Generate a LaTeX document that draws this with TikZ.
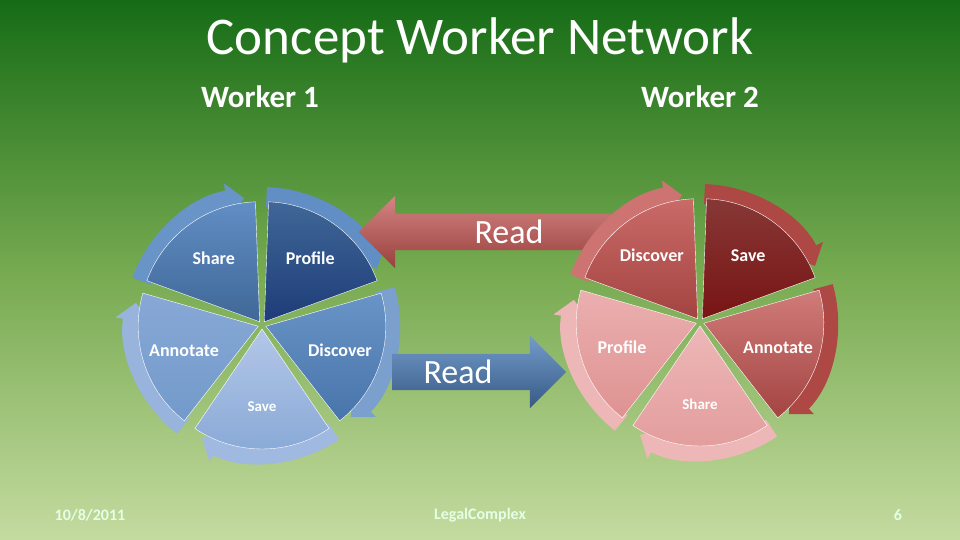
\documentclass[tikz,border=0pt]{standalone}
\usepackage{fontspec}
\setmainfont{Carlito}
\usetikzlibrary{shapes.arrows,arrows.meta,calc}
\definecolor{ob}{RGB}{79,129,189}
\definecolor{obd}{RGB}{30,60,120}
\definecolor{obl}{RGB}{160,185,225}
\definecolor{orr}{RGB}{192,80,77}
\definecolor{ord}{RGB}{120,20,20}
\definecolor{orl}{RGB}{235,175,175}
\begin{document}
\begin{tikzpicture}[x=1pt,y=1pt,
  lbl/.style={text=white,font=\bfseries\fontsize{18}{20}\selectfont},
  slbl/.style={text=white,font=\bfseries\fontsize{15}{17}\selectfont},
  ring/.style={line width=20pt,-{Triangle[width=34pt,length=18pt]}},
  bigarrow/.style={single arrow,draw=none,text=white,font=\fontsize{34}{38}\selectfont,inner sep=6pt,single arrow head extend=18pt,single arrow tip angle=90}]
\shade[top color={rgb,255:red,22;green,108;blue,22},bottom color={rgb,255:red,197;green,219;blue,160},middle color={rgb,255:red,118;green,170;blue,80}] (0,0) rectangle (960,540);
\useasboundingbox (0,0) rectangle (960,540);
\node (title) [text=white,font=\fontsize{53}{60}\selectfont] at (480,500) {Concept Worker Network};
\node (w1) [text=white,font=\bfseries\fontsize{31}{35}\selectfont] at (260,443) {Worker 1};
\node (w2) [text=white,font=\bfseries\fontsize{31}{35}\selectfont] at (700,443) {Worker 2};
\newcommand{\mywedge}[8]{%
  \draw[ring,#5] ($(#1)+(#2+34:128)$) arc[start angle=#2+34,end angle=#2-28,radius=128];
  \shade[top color=#3,bottom color=#4,draw=white!60,line width=0.4pt] ($(#1)+(#2:4)$) -- ++(#2+34:120) arc[start angle=#2+34,end angle=#2-34,radius=120] -- cycle;
  \node[#8] (#7) at ($(#1)+(#2:82)$) {#6};}
\coordinate (L) at (262,215);
\coordinate (R) at (700,218);
\mywedge{L}{126}{ob!90!white}{ob!80!black}{ob!85!white}{Share}{ls}{lbl}
\mywedge{L}{54}{ob!80!black}{obd}{ob!90!white}{Profile}{lp}{lbl}
\mywedge{L}{-18}{ob!85!white}{ob!90!black}{ob!75!white}{Discover}{ld}{lbl}
\mywedge{L}{-90}{obl!80!white}{obl!70!ob}{obl}{Save}{lv}{slbl}
\mywedge{L}{198}{obl!70!ob}{ob!80!white}{obl!90!ob}{Annotate}{la}{lbl}
\node (r1) [bigarrow,minimum height=252pt,minimum width=56pt,shape border rotate=180,top color=orr!70!white,bottom color=orr!80!black] at (494,308) {\hspace*{30pt}Read};
\node (r2) [bigarrow,minimum height=174pt,minimum width=58pt,top color=ob!80!white,bottom color=ob!70!black] at (470,168) {Read\hspace*{24pt}};
\mywedge{R}{126}{orr!85!white}{orr!85!black}{orr!80!white}{Discover}{rd}{lbl}
\mywedge{R}{54}{orr!70!black}{ord}{orr!90!black}{Save}{rv}{lbl}
\mywedge{R}{-18}{orr!75!white}{orr!85!black}{orr!90!black}{Annotate}{ra}{lbl}
\mywedge{R}{-90}{orl!90!white}{orl!80!orr}{orl!90!white}{Share}{rs}{slbl}
\mywedge{R}{198}{orl}{orl!70!orr}{orl!90!white}{Profile}{rp}{lbl}
\node (d) [text=white!90!green,font=\bfseries\fontsize{16}{18}\selectfont] at (90,25) {10/8/2011};
\node (lc) [text=white!90!green,font=\bfseries\fontsize{16}{18}\selectfont] at (480,25) {LegalComplex};
\node (pg) [text=white!90!green,font=\bfseries\fontsize{16}{18}\selectfont] at (898,25) {6};
\end{tikzpicture}
\end{document}
